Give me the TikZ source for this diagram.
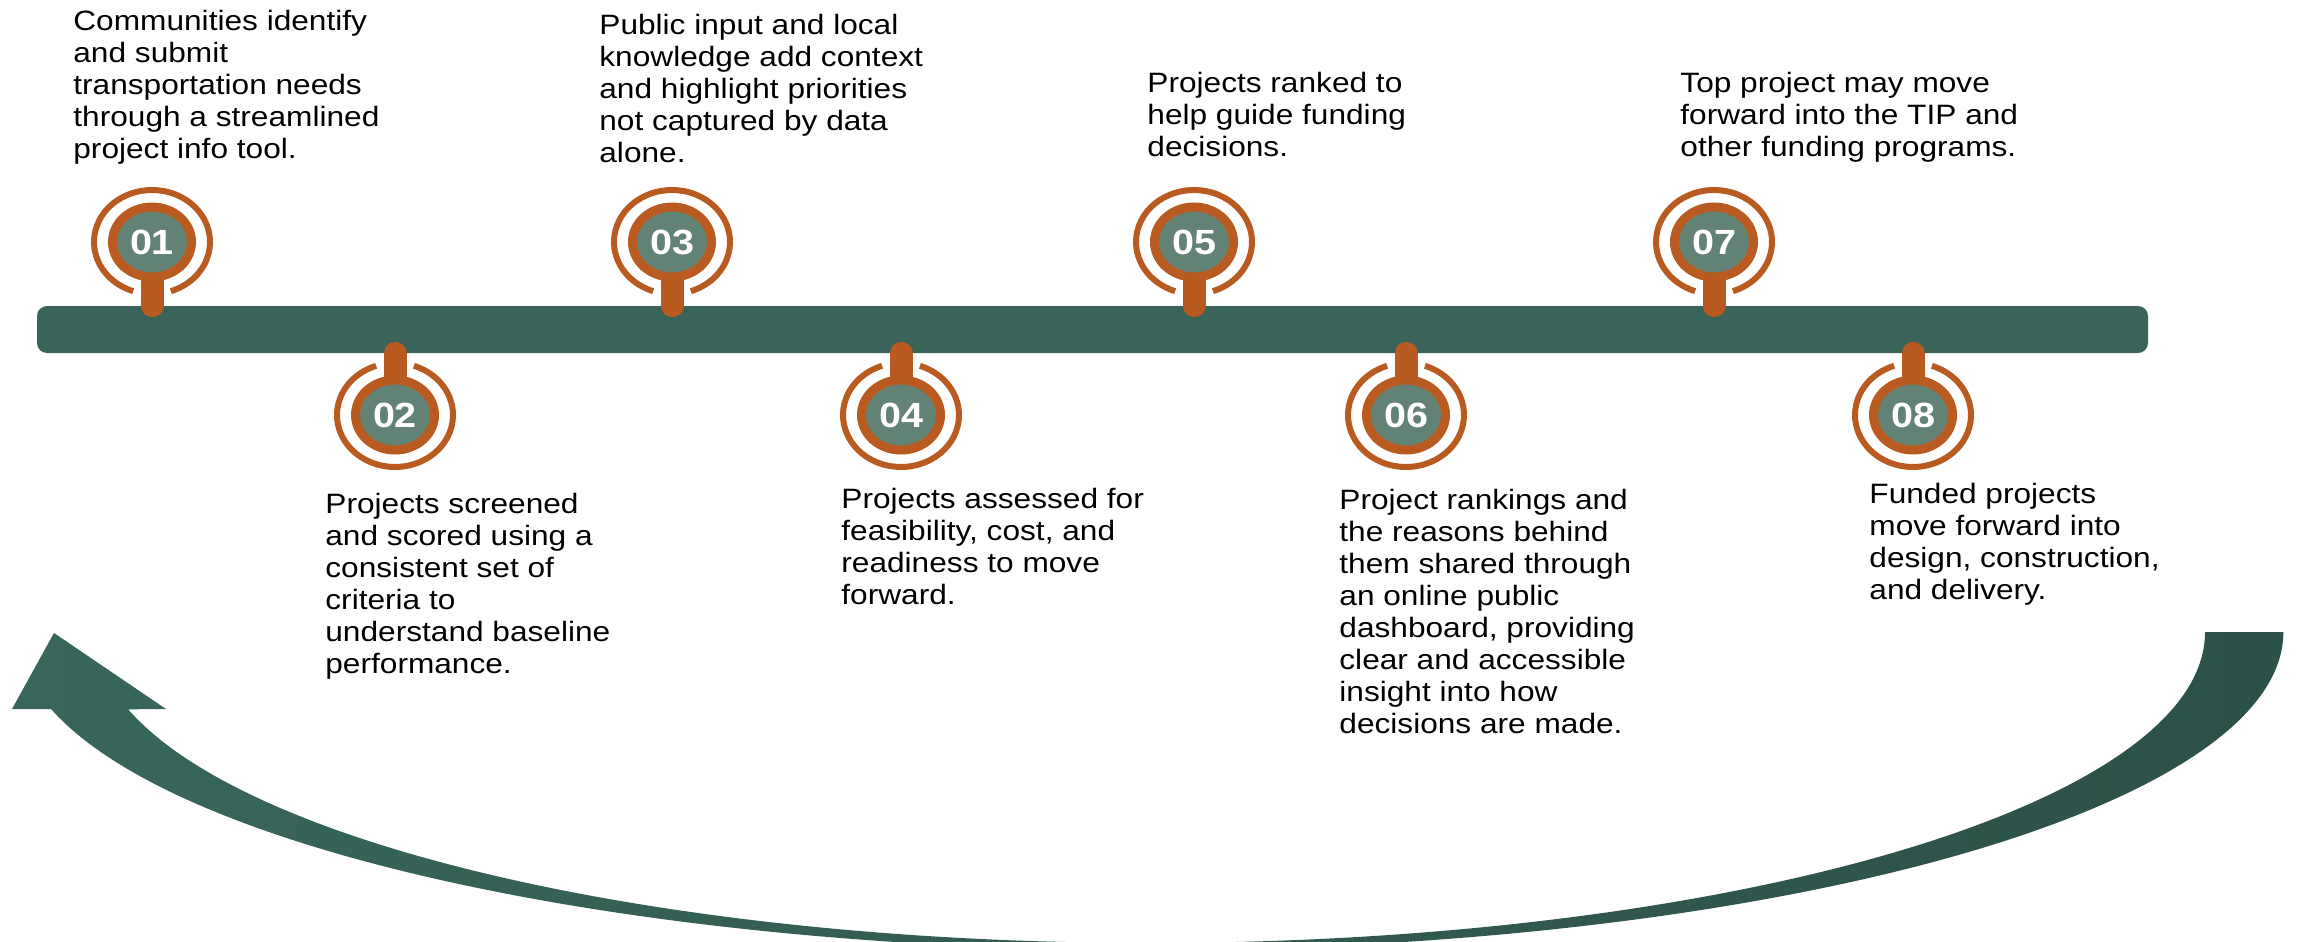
\documentclass[tikz,border=0pt]{standalone}
\usepackage{fontspec}
\setmainfont{Liberation Sans}[FakeStretch=1.13]
\usepackage{tikz}
\usetikzlibrary{calc,shapes.geometric,backgrounds}

\definecolor{barGreen}{HTML}{3A6459}
\definecolor{dotGreen}{HTML}{628275}
\definecolor{rust}{HTML}{B95B20}
\definecolor{arrowLight}{HTML}{38665A}
\definecolor{arrowDark}{HTML}{2C5148}

\begin{document}
\begin{tikzpicture}[x=0.5pt,y=-0.5pt,
   marker/.style={ellipse,draw=rust,fill=dotGreen,line width=4.5pt,
    minimum width=39.5pt,minimum height=35pt,inner sep=0pt,
    text=white,font=\fontsize{17.5}{17.5}\selectfont\bfseries},
   ring/.style={draw=rust,line width=3pt},
   stem/.style={draw=rust,line width=11.5pt,line cap=round},
   bar/.style={rectangle,fill=barGreen,rounded corners=5pt,
    minimum width=1055.5pt,minimum height=23.5pt,inner sep=0pt},
   note/.style={anchor=base west,align=left,inner sep=0pt,
    font=\fontsize{14}{16}\selectfont}
    ]
  \useasboundingbox (0,0) rectangle (2297,942);

  % -- markers above the bar
  \node[marker] at (152,242) (m1) {01};
  \node[marker] at (672,242) (m3) {03};
  \node[marker] at (1194,242) (m5) {05};
  \node[marker] at (1714,242) (m7) {07};
  % -- markers below the bar
  \node[marker] at (395,415) (m2) {02};
  \node[marker] at (901,415) (m4) {04};
  \node[marker] at (1406,415) (m6) {06};
  \node[marker] at (1913,415) (m8) {08};

  % -- open rings
  \draw[ring] ($(m1)+(109:58 and 52)$) arc[start angle=109,end angle=431,x radius=58,y radius=52];
  \draw[ring] ($(m3)+(109:58 and 52)$) arc[start angle=109,end angle=431,x radius=58,y radius=52];
  \draw[ring] ($(m5)+(109:58 and 52)$) arc[start angle=109,end angle=431,x radius=58,y radius=52];
  \draw[ring] ($(m7)+(109:58 and 52)$) arc[start angle=109,end angle=431,x radius=58,y radius=52];
  \draw[ring] ($(m2)+(-71:58 and 52)$) arc[start angle=-71,end angle=251,x radius=58,y radius=52];
  \draw[ring] ($(m4)+(-71:58 and 52)$) arc[start angle=-71,end angle=251,x radius=58,y radius=52];
  \draw[ring] ($(m6)+(-71:58 and 52)$) arc[start angle=-71,end angle=251,x radius=58,y radius=52];
  \draw[ring] ($(m8)+(-71:58 and 52)$) arc[start angle=-71,end angle=251,x radius=58,y radius=52];

  \begin{pgfonlayer}{background}
    % -- return arrow
    \path[left color=arrowLight,right color=arrowDark] (2205,632)
      arc[start angle=0,end angle=165.6,x radius=1055,y radius=311]
      -- (166,709) -- (54,633) -- (12,709) -- (51,709)
      arc[start angle=166,end angle=0,x radius=1133,y radius=318] -- cycle;
    % -- bar and stems
    \node[bar] at (1092.5,329.5) (bar) {};
    \draw[stem] (m1.center) -- (m1 |- bar.north);
    \draw[stem] (m3.center) -- (m3 |- bar.north);
    \draw[stem] (m5.center) -- (m5 |- bar.north);
    \draw[stem] (m7.center) -- (m7 |- bar.north);
    \draw[stem] (m2.center) -- (m2 |- bar.south);
    \draw[stem] (m4.center) -- (m4 |- bar.south);
    \draw[stem] (m6.center) -- (m6 |- bar.south);
    \draw[stem] (m8.center) -- (m8 |- bar.south);
  \end{pgfonlayer}

  % -- labels (placed at the baseline of their last line)
  \node[note] at (73,158) (t1) {Communities identify\\and submit\\transportation needs\\through a streamlined\\project info tool.};
  \node[note] at (325,673) (t2) {Projects screened\\and scored using a\\consistent set of\\criteria to\\understand baseline\\performance.};
  \node[note] at (599,162) (t3) {Public input and local\\knowledge add context\\and highlight priorities\\not captured by data\\alone.};
  \node[note] at (841,604) (t4) {Projects assessed for\\feasibility, cost, and\\readiness to move\\forward.};
  \node[note] at (1147,156) (t5) {Projects ranked to\\help guide funding\\decisions.};
  \node[note] at (1339,733) (t6) {Project rankings and\\the reasons behind\\them shared through\\an online public\\dashboard, providing\\clear and accessible\\insight into how\\decisions are made.};
  \node[note] at (1680,156) (t7) {Top project may move\\forward into the TIP and\\other funding programs.};
  \node[note] at (1869,599) (t8) {Funded projects\\move forward into\\design, construction,\\and delivery.};

\end{tikzpicture}
\end{document}
